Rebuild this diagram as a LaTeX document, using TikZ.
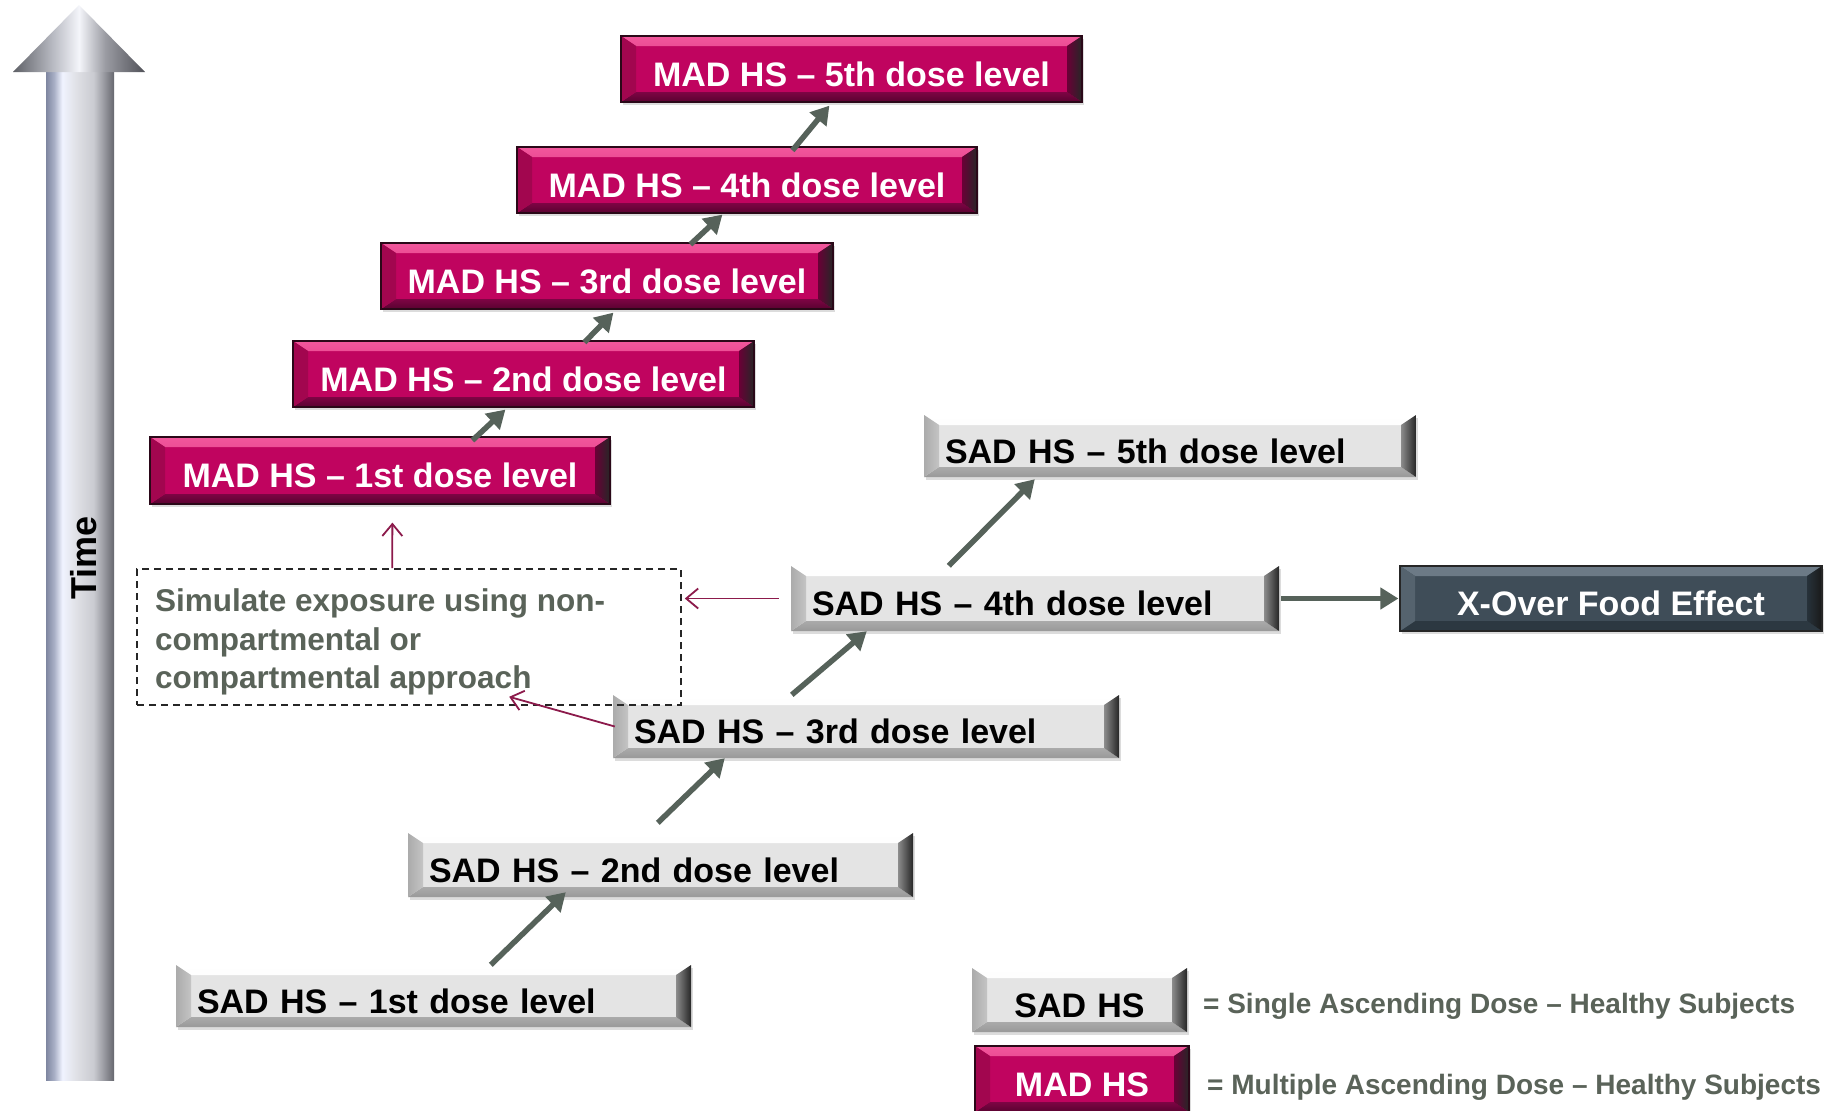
\documentclass[tikz,border=0pt]{standalone}
\usepackage{fontspec}
\setmainfont{Liberation Sans}
\usetikzlibrary{arrows.meta,shadows}

\definecolor{madface}{HTML}{C0045F}
\definecolor{madtop}{HTML}{F2579C}
\definecolor{madleft}{HTML}{A2064F}
\definecolor{madright}{HTML}{6A0036}
\definecolor{madbot}{HTML}{7E0444}
\definecolor{madedge}{HTML}{2A0818}
\definecolor{sadface}{HTML}{E4E4E4}
\definecolor{sadtop}{HTML}{F6F6F6}
\definecolor{sadleft}{HTML}{ABABAB}
\definecolor{sadright}{HTML}{8C8C8C}
\definecolor{sadbot}{HTML}{AAAAAA}
\definecolor{xface}{HTML}{3F4D58}
\definecolor{xtop}{HTML}{6C7A86}
\definecolor{xleft}{HTML}{55636E}
\definecolor{xright}{HTML}{27323A}
\definecolor{xbot}{HTML}{2C3841}
\definecolor{arrowgray}{HTML}{56625A}
\definecolor{notered}{HTML}{8C1A4B}
\definecolor{notetext}{HTML}{5A6359}
\definecolor{mA}{HTML}{7E86A0}
\definecolor{mB}{HTML}{A9B0C6}
\definecolor{mC}{HTML}{F0F3FF}
\definecolor{mD}{HTML}{E0E1E6}
\definecolor{mE}{HTML}{CACBD1}
\definecolor{mF}{HTML}{96979E}
\definecolor{mG}{HTML}{66676E}
\definecolor{hA}{HTML}{5E6066}
\definecolor{hB}{HTML}{B8BAC2}
\definecolor{hC}{HTML}{F4F5FA}
\definecolor{hD}{HTML}{9A9BA2}
\definecolor{hE}{HTML}{505158}

\pgfdeclarehorizontalshading{metal}{100bp}{color(0bp)=(mA); color(25bp)=(mA); color(31bp)=(mB); color(37bp)=(mC); color(47bp)=(mD); color(60bp)=(mE); color(68bp)=(mF); color(75bp)=(mG); color(100bp)=(mG)}
\pgfdeclarehorizontalshading{metalhead}{100bp}{color(0bp)=(hA); color(25bp)=(hA); color(40bp)=(hB); color(50bp)=(hC); color(60bp)=(hD); color(75bp)=(hE); color(100bp)=(hE)}

\newcommand\bxfont{\fontsize{34}{38}\selectfont\bfseries}
\newcommand\tmfont{\fontsize{36}{40}\selectfont\bfseries}
\newcommand\ntfont{\fontsize{31.5}{38.5}\selectfont\bfseries}
\newcommand\lgfont{\fontsize{28}{32}\selectfont\bfseries}
\def\bw{15pt}
\def\bh{10pt}

\begin{document}
\begin{tikzpicture}[x=1pt,y=-1pt,
  bevel/.style n args={4}{path picture={
    \path[#1] (path picture bounding box.north west) -- (path picture bounding box.north east) -- ([xshift=-\bw,yshift=-\bh]path picture bounding box.north east) -- ([xshift=\bw,yshift=-\bh]path picture bounding box.north west) -- cycle;
    \path[#4] (path picture bounding box.south west) -- (path picture bounding box.south east) -- ([xshift=-\bw,yshift=\bh]path picture bounding box.south east) -- ([xshift=\bw,yshift=\bh]path picture bounding box.south west) -- cycle;
    \path[#2] (path picture bounding box.north west) -- ([xshift=\bw,yshift=-\bh]path picture bounding box.north west) -- ([xshift=\bw,yshift=\bh]path picture bounding box.south west) -- (path picture bounding box.south west) -- cycle;
    \path[#3] (path picture bounding box.north east) -- ([xshift=-\bw,yshift=-\bh]path picture bounding box.north east) -- ([xshift=-\bw,yshift=\bh]path picture bounding box.south east) -- (path picture bounding box.south east) -- cycle;
  }},
  boxshadow/.style={drop shadow={shadow xshift=2pt,shadow yshift=-3pt,opacity=0.3,fill=black!45}},
  madbox/.style={boxshadow, draw=madedge, line width=1.2pt, fill=madface, minimum height=66pt,
    text=white, font=\bxfont, align=center, text height=34.5pt, text depth=0pt, inner sep=0pt,
    bevel={top color=madtop,bottom color=madface!75!madtop}{fill=madleft}{left color=madright,right color=black!85}{top color=madbot,bottom color=madbot!70!black}},
  sadbox/.style={boxshadow, fill=sadface, text=black, font=\bxfont, align=left,
    text height=34.5pt, text depth=0pt, inner xsep=21pt, inner ysep=0pt,
    bevel={top color=white,bottom color=sadtop}{left color=sadleft,right color=sadleft!70!white}{left color=sadright,right color=black!85}{top color=sadbot,bottom color=gray!80}},
  xbox/.style={boxshadow, draw=black!85, line width=1.2pt, fill=xface, minimum height=65pt,
    text=white, font=\bxfont, align=center, text height=33.5pt, text depth=0pt, inner sep=0pt,
    bevel={fill=xtop}{fill=xleft}{left color=xright,right color=black!90}{fill=xbot}},
  grayarrow/.style={draw=arrowgray, line width=5.5pt, -{Triangle[length=18pt,width=21pt]}},
  redarrow/.style={draw=notered, line width=1.8pt, -{Straight Barb[length=12pt,width=20pt]}},
  legtext/.style={text=notetext, font=\lgfont, inner sep=0pt, text height=20pt, text depth=0pt, anchor=west},
  dashbox/.style={draw=black!85, line width=1.6pt, dash pattern=on 7pt off 5pt, minimum width=544pt, minimum height=136pt, inner sep=0pt}
]
\useasboundingbox (0,0) rectangle (1837,1111);
\fill[white] (0,0) rectangle (1837,1111);

% time axis
\shade[shading=metal] (46,70) rectangle (114,1080);
\shade[shading=metalhead] (13,72) -- (79,5) -- (145,72) -- cycle;
\node[rotate=90, font=\tmfont, inner sep=0pt, text=black] (time) at (84,558) {Time};

% MAD boxes
\node[madbox, minimum width=461pt] (mad5) at (851.5,69) {MAD HS – 5th dose level};
\node[madbox, minimum width=460pt] (mad4) at (747,180) {MAD HS – 4th dose level};
\node[madbox, minimum width=452pt] (mad3) at (607,276) {MAD HS – 3rd dose level};
\node[madbox, minimum width=461pt] (mad2) at (523.5,374) {MAD HS – 2nd dose level};
\node[madbox, minimum width=460pt, minimum height=67pt] (mad1) at (380,470.5) {MAD HS – 1st dose level};

% SAD boxes
\node[sadbox, text width=450pt, minimum height=62pt] (sad5) at (1170,446) {SAD HS – 5th dose level};
\node[sadbox, text width=446pt, minimum height=65pt] (sad4) at (1035,598.5) {SAD HS – 4th dose level};
\node[sadbox, text width=464pt, minimum height=63pt] (sad3) at (866,726.5) {SAD HS – 3rd dose level};
\node[sadbox, text width=463pt, minimum height=64pt] (sad2) at (660.5,865) {SAD HS – 2nd dose level};
\node[sadbox, text width=473pt, minimum height=62pt] (sad1) at (433.5,996) {SAD HS – 1st dose level};
\node[xbox, minimum width=422pt] (xover) at (1611,598.5) {X-Over Food Effect};

% note box
\node[dashbox] (dash) at (409,637) {};
\node[anchor=west, align=left, text=notetext, font=\ntfont, inner sep=0pt] (dashtext) at (155,642)
  {Simulate exposure using non-\\compartmental or\\compartmental approach};

% legend
\node[sadbox, text width=173pt, align=center, minimum height=64pt] (legsad) at (1079.5,1000) {SAD HS};
\node[madbox, minimum width=214pt] (legmad) at (1082,1079) {MAD HS};
\node[legtext] (legsadtxt) at (1203,1003) {= Single Ascending Dose – Healthy Subjects};
\node[legtext] (legmadtxt) at (1207,1084) {= Multiple Ascending Dose – Healthy Subjects};

% SAD arrows
\draw[grayarrow] ([xshift=315pt]sad1.north west) -- ([xshift=158pt,yshift=5pt]sad2.south west);
\draw[grayarrow] ([xshift=250pt,yshift=10pt]sad2.north west) -- ([xshift=112pt]sad3.south west);
\draw[grayarrow] ([xshift=179pt]sad3.north west) -- ([xshift=76pt]sad4.south west);
\draw[grayarrow] ([xshift=158pt]sad4.north west) -- ([xshift=111pt,yshift=-2pt]sad5.south west);
\draw[grayarrow] ([xshift=2pt]sad4.east) -- ([xshift=-1pt]xover.west);

% MAD arrows
\draw[grayarrow] ([xshift=323pt,yshift=-4pt]mad1.north west) -- ([xshift=213pt,yshift=-2pt]mad2.south west);
\draw[grayarrow] ([xshift=292pt,yshift=-2pt]mad2.north west) -- ([xshift=233pt,yshift=-3pt]mad3.south west);
\draw[grayarrow] ([xshift=310pt,yshift=-2pt]mad3.north west) -- ([xshift=206pt,yshift=-1pt]mad4.south west);
\draw[grayarrow] ([xshift=276pt,yshift=-4pt]mad4.north west) -- ([xshift=209pt,yshift=-3pt]mad5.south west);

% note arrows
\draw[redarrow] ([xshift=256pt]dash.north west) -- ([xshift=243pt,yshift=-18pt]mad1.south west);
\draw[redarrow] ([xshift=-12pt]sad4.west) -- ([xshift=3pt]dash.east |- sad4.west);
\draw[redarrow] ([xshift=2pt]sad3.west) -- ([xshift=373pt,yshift=9pt]dash.south west);
\end{tikzpicture}
\end{document}
